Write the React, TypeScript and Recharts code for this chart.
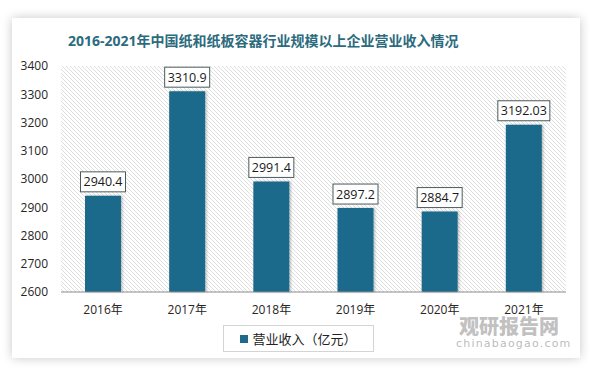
import React from "react";
import { BarChart, Bar, XAxis, YAxis, CartesianGrid, LabelList } from "recharts";

const categories = ["2016年", "2017年", "2018年", "2019年", "2020年", "2021年"];
const revenue = [2940.4, 3310.9, 2991.4, 2897.2, 2884.7, 3192.03];
const revenueLabels = ["2940.4", "3310.9", "2991.4", "2897.2", "2884.7", "3192.03"];
const yTicks = [2600, 2700, 2800, 2900, 3000, 3100, 3200, 3300, 3400];
const seriesName = "营业收入（亿元）";
const title = "2016-2021年中国纸和纸板容器行业规模以上企业营业收入情况";

const data = categories.map((c, i) => ({ name: c, value: revenue[i], label: revenueLabels[i] }));

const FONT = "'Open Sans', 'Noto Sans CJK SC', sans-serif";
const BAR_COLOR = "#1d6a8b";

const ValueLabel = (props: any) => {
  const { x, y, width, value } = props;
  const text = String(value);
  const w = text.length * 7 + 3;
  const h = 20;
  const cx = x + width / 2;
  const top = y - 4 - h;
  return (
    <g>
      <rect x={cx - w / 2} y={top} width={w} height={h} fill="#ffffff" stroke="#4d5a5c" strokeWidth={1} />
      <text x={cx} y={top + h / 2 + 4.5} textAnchor="middle" fontSize={12.5} fill="#1a1a1a" fontFamily={FONT}>
        {text}
      </text>
    </g>
  );
};

export default function App() {
  return (
    <div style={{ position: "absolute", left: 0, top: 0, width: 589, height: 373, background: "#ffffff", overflow: "hidden" }}>
      <svg width={0} height={0} style={{ position: "absolute" }}>
        <defs>
          <pattern id="hatch" patternUnits="userSpaceOnUse" width={4} height={4}>
            <rect width={4} height={4} fill="#ffffff" />
            <path d="M-1,3 l2,2 M0,0 l4,4 M3,-1 l2,2" stroke="#dadada" strokeWidth={0.9} />
          </pattern>
          <filter id="barShadow" x="-20%" y="-5%" width="140%" height="110%">
            <feDropShadow dx="1.5" dy="0" stdDeviation="1.2" floodColor="#000" floodOpacity="0.25" />
          </filter>
        </defs>
      </svg>
      <div
        style={{
          position: "absolute",
          left: 12,
          top: 18,
          width: 568,
          height: 340,
          background: "#ffffff",
          boxShadow: "0 0 10px rgba(0,0,0,0.22)",
        }}
      />
      <div style={{ position: "absolute", left: 0, top: 0 }}>
        <BarChart width={589} height={373} data={data} margin={{ top: 66, right: 23, left: 11, bottom: 51 }}>
          <text x={68} y={46} fontSize={14} fontWeight="bold" fill="#2c6b7e" fontFamily={FONT}>
            {title}
          </text>
          <CartesianGrid horizontal={false} vertical={false} fill="url(#hatch)" fillOpacity={1} />
          <XAxis
            dataKey="name"
            height={30}
            tickLine={false}
            tickSize={0}
            tickMargin={13}
            axisLine={{ stroke: "#8a8a8a", strokeWidth: 1 }}
            tick={{ fontSize: 12, fill: "#262626", fontFamily: FONT }}
          />
          <YAxis
            width={50}
            domain={[2600, 3400]}
            ticks={yTicks}
            axisLine={false}
            tickLine={false}
            tickSize={0}
            tickMargin={13}
            tick={{ fontSize: 12, fill: "#262626", fontFamily: FONT }}
          />
          <Bar
            dataKey="value"
            name={seriesName}
            fill={BAR_COLOR}
            barSize={36}
            isAnimationActive={false}
            style={{ filter: "url(#barShadow)" }}
          >
            <LabelList dataKey="label" content={<ValueLabel />} />
          </Bar>
        </BarChart>
      </div>
      <div
        style={{
          position: "absolute",
          left: 223,
          top: 325,
          width: 151,
          height: 27,
          boxSizing: "border-box",
          border: "1px solid #d4d4d4",
          display: "flex",
          alignItems: "center",
          justifyContent: "center",
          fontFamily: FONT,
          fontSize: 13,
          color: "#222",
          background: "#fff",
        }}
      >
        <span style={{ width: 8, height: 8, background: BAR_COLOR, display: "inline-block", marginRight: 4 }} />
        <span>{seriesName}</span>
      </div>
      <div
        style={{
          position: "absolute",
          left: 459,
          top: 316,
          fontFamily: "'Noto Sans CJK SC', sans-serif",
          fontWeight: 900,
          fontSize: 20,
          lineHeight: "19px",
          color: "rgba(140,140,140,0.55)",
          whiteSpace: "nowrap",
          pointerEvents: "none",
        }}
      >
        观研报告网
      </div>
      <div
        style={{
          position: "absolute",
          left: 456,
          top: 338,
          fontFamily: "'DejaVu Sans', sans-serif",
          fontSize: 11,
          lineHeight: "11px",
          letterSpacing: 1.2,
          color: "rgba(140,140,140,0.6)",
          whiteSpace: "nowrap",
          pointerEvents: "none",
        }}
      >
        chinabaogao.com
      </div>
    </div>
  );
}
